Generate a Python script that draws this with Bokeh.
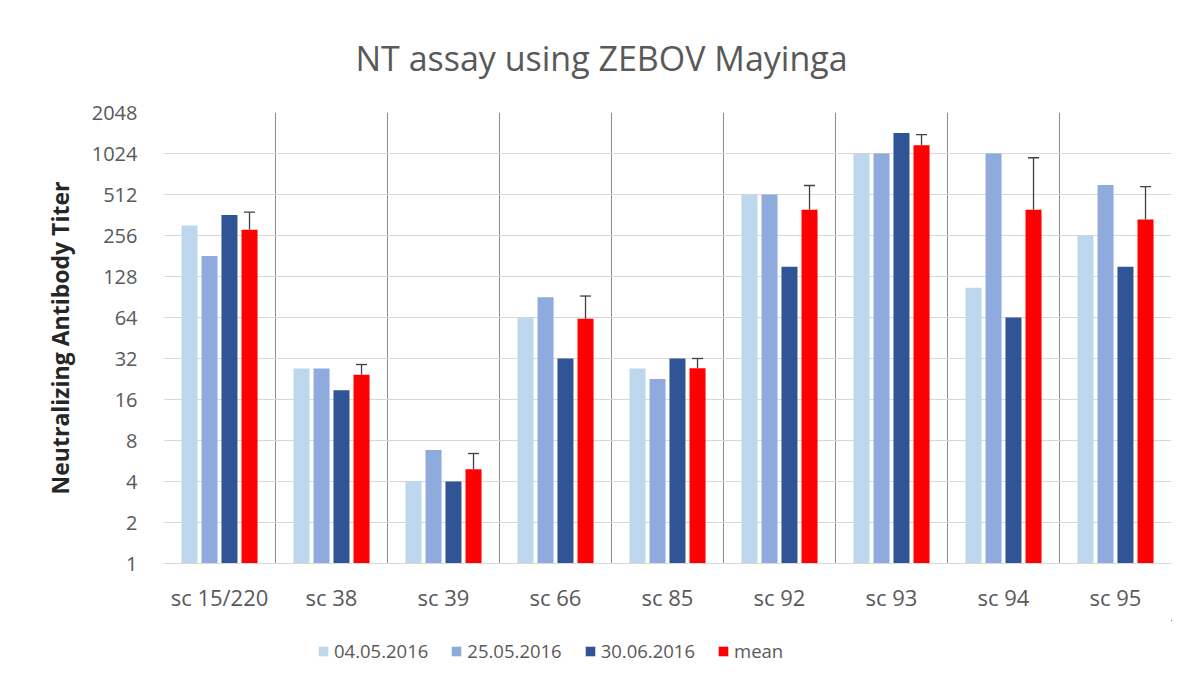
from bokeh.plotting import figure
from bokeh.layouts import column
from bokeh.models import (Range1d, FixedTicker, CustomJSTickFormatter, ColumnDataSource,
                          Whisker, TeeHead, Legend, LegendItem)
from bokeh.embed import file_html
from bokeh.resources import INLINE

categories = ["sc 15/220", "sc 38", "sc 39", "sc 66", "sc 85", "sc 92", "sc 93", "sc 94", "sc 95"]
series_names = ["04.05.2016", "25.05.2016", "30.06.2016", "mean"]
titer_04_05 = [303, 27, 4, 64, 27, 512, 1024, 106, 256]
titer_25_05 = [181, 27, 6.8, 90, 22.6, 512, 1024, 1024, 600]
titer_30_06 = [362, 18.7, 4, 32, 32, 151, 1450, 64, 151]
titer_mean = [282, 24.3, 4.93, 62.6, 27.1, 396, 1175, 396, 335]
mean_err_upper = [380, 28.9, 6.42, 92, 32, 596, 1411, 953, 584]
y_ticks = [1, 2, 4, 8, 16, 32, 64, 128, 256, 512, 1024, 2048]

colors = ["#BDD7EE", "#8FAADC", "#2F5597", "#FF0000"]
offsets = [-0.268, -0.089, 0.089, 0.268]
bar_w = 0.143
FONT = "Open Sans"

p = figure(width=1200, height=620, output_backend="svg", toolbar_location=None,
           y_axis_type="log", x_range=Range1d(0, len(categories)), y_range=Range1d(1, 2048),
           min_border_left=163, min_border_right=29, min_border_top=112, min_border_bottom=57)

p.title.text = "NT assay using ZEBOV Mayinga"
p.title.align = "left"
p.title.offset = 192
p.title.vertical_align = "middle"
p.title.text_font = FONT
p.title.text_font_size = "34px"
p.title.text_font_style = "normal"
p.title.text_color = "#595959"
p.title.standoff = 62

centers = [i + 0.5 for i in range(len(categories))]
series = [titer_04_05, titer_25_05, titer_30_06, titer_mean]
sources = []
for vals, col, off in zip(series, colors, offsets):
    src = ColumnDataSource(dict(x=[c + off for c in centers], top=vals, bottom=[1] * len(vals)))
    sources.append(src)
    p.vbar(x="x", top="top", bottom="bottom", width=bar_w, source=src,
           fill_color=col, line_color=None)

err_src = ColumnDataSource(dict(x=[c + offsets[3] for c in centers], lower=titer_mean, upper=mean_err_upper))
w = Whisker(base="x", lower="lower", upper="upper", source=err_src, dimension="height",
            line_color="#404040", line_width=1.3,
            upper_head=TeeHead(size=11, line_color="#404040", line_width=1.3), lower_head=None)
p.add_layout(w)

# axes
p.xaxis.ticker = FixedTicker(ticks=centers)
p.xaxis.formatter = CustomJSTickFormatter(args=dict(cats=categories),
                                          code="return cats[Math.round(tick - 0.5)];")
p.xaxis.axis_line_color = "#d9d9d9"
p.xaxis.major_tick_line_color = None
p.xaxis.minor_tick_line_color = None
p.xaxis.major_tick_out = 0
p.xaxis.minor_tick_out = 0
p.xaxis.major_label_text_font = FONT
p.xaxis.major_label_text_font_size = "22px"
p.xaxis.major_label_text_color = "#595959"
p.xaxis.major_label_standoff = 18

p.yaxis.ticker = FixedTicker(ticks=y_ticks)
p.yaxis.formatter = CustomJSTickFormatter(code="return Math.round(tick).toString();")
p.yaxis.axis_line_color = None
p.yaxis.major_tick_line_color = None
p.yaxis.minor_tick_line_color = None
p.yaxis.major_tick_out = 0
p.yaxis.minor_tick_out = 0
p.yaxis.major_label_text_font = FONT
p.yaxis.major_label_text_font_size = "20px"
p.yaxis.major_label_text_color = "#595959"
p.yaxis.major_label_standoff = 26
p.yaxis.axis_label = "Neutralizing Antibody Titer"
p.yaxis.axis_label_text_font = FONT
p.yaxis.axis_label_text_font_size = "23px"
p.yaxis.axis_label_text_font_style = "bold"
p.yaxis.axis_label_text_color = "#262626"
p.yaxis.axis_label_standoff = 13

# grids
p.ygrid.ticker = FixedTicker(ticks=y_ticks)
p.ygrid.grid_line_color = "#d9d9d9"
p.ygrid.grid_line_width = 1
p.xgrid.ticker = FixedTicker(ticks=list(range(len(categories) + 1)))
p.xgrid.grid_line_color = "#8c8c8c"
p.xgrid.grid_line_width = 1
p.outline_line_color = None

# legend strip below the chart (its frame is aligned with the chart frame by the column)
lf = figure(width=1200, height=71, output_backend="svg", toolbar_location=None,
            x_range=Range1d(-3, -2), y_range=Range1d(-3, -2),
            x_axis_location=None, y_axis_location=None,
            min_border_left=0, min_border_right=0, min_border_top=0, min_border_bottom=0)
lf.grid.visible = False
lf.outline_line_color = None
legend_renderers = []
for src, col in zip(sources, colors):
    legend_renderers.append(lf.vbar(x="x", top="top", bottom="bottom", width=bar_w, source=src,
                                    fill_color=col, line_color=None))

legend = Legend(items=[LegendItem(label=n, renderers=[r]) for n, r in zip(series_names, legend_renderers)],
                orientation="horizontal", location=(154, 28))
legend.glyph_width = 12
legend.glyph_height = 12
legend.label_height = 20
legend.label_standoff = 5
legend.spacing = 22
legend.padding = 0
legend.margin = 0
legend.border_line_color = None
legend.background_fill_alpha = 0
legend.label_text_font = FONT
legend.label_text_font_size = "18.5px"
legend.label_text_color = "#595959"
lf.add_layout(legend, "center")

layout = column(p, lf, spacing=0)
open("out.html", "w").write(file_html(layout, INLINE))
